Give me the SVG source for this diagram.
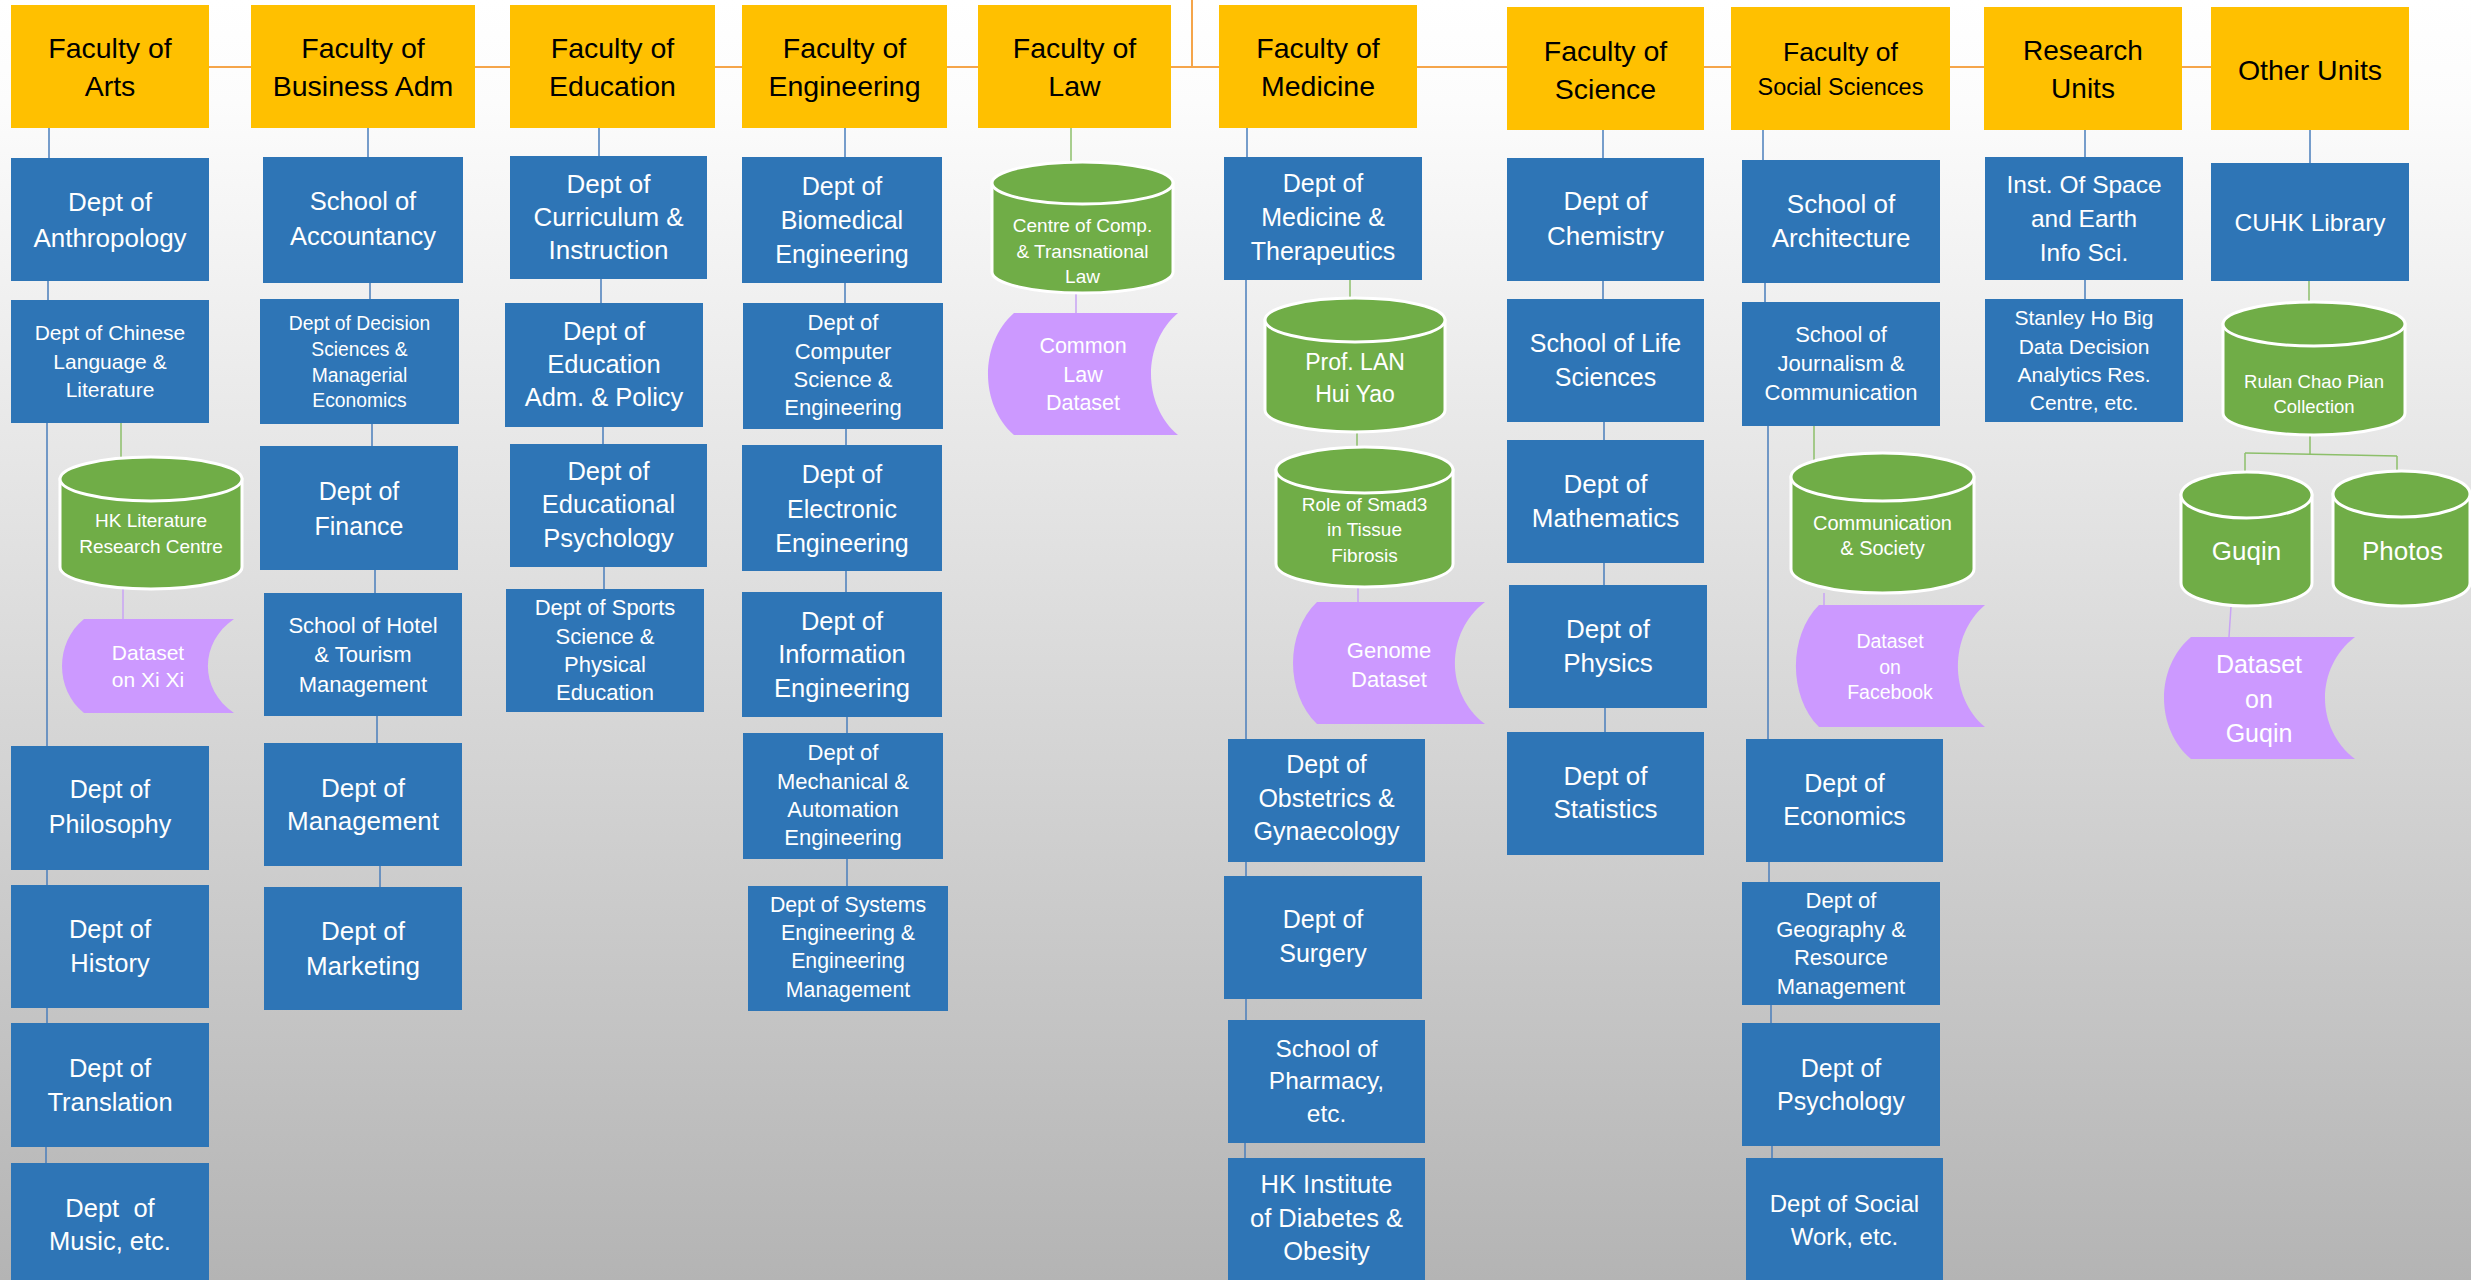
<svg xmlns="http://www.w3.org/2000/svg" width="2471" height="1280" viewBox="0 0 2471 1280">
<defs>
<linearGradient id="bg" x1="0" y1="0" x2="0" y2="1">
<stop offset="0" stop-color="#FFFFFF"/>
<stop offset="0.08" stop-color="#FCFCFC"/>
<stop offset="1" stop-color="#B4B4B4"/>
</linearGradient>
</defs>
<style>
.fac{fill:#FFC000}
.dept{fill:#2E75B6}
.cyl{fill:#70AD47;stroke:#FFFFFF;stroke-width:3}
.ds{fill:#CC99FF}
text{font-family:"Liberation Sans",Arial,sans-serif;text-anchor:middle}
.k{fill:#000000}
.w{fill:#FFFFFF}
.co{stroke:#F5A54A;stroke-width:2;fill:none}
.cb{stroke:#4A7EBB;stroke-width:1.5;fill:none}
.cg{stroke:#8CBF6A;stroke-width:1.5;fill:none}
.cp{stroke:#C9A3F5;stroke-width:1.5;fill:none}
</style>
<rect x="0" y="0" width="2471" height="1280" fill="url(#bg)"/>
<g id="connectors">
<line class="co" x1="209" y1="67" x2="2211" y2="67"/>
<line class="co" x1="1192" y1="0" x2="1192" y2="67"/>
<!-- Arts -->
<line class="cb" x1="49" y1="128" x2="49" y2="158"/>
<line class="cb" x1="48" y1="281" x2="48" y2="300"/>
<line class="cb" x1="47" y1="423" x2="47" y2="746"/>
<line class="cb" x1="47" y1="870" x2="47" y2="885"/>
<line class="cb" x1="47" y1="1008" x2="47" y2="1023"/>
<line class="cb" x1="46" y1="1147" x2="46" y2="1163"/>
<line class="cg" x1="121" y1="423" x2="121" y2="459"/>
<line class="cp" x1="123" y1="589" x2="123" y2="619"/>
<!-- Business -->
<line class="cb" x1="368" y1="128" x2="368" y2="157"/>
<line class="cb" x1="370" y1="283" x2="370" y2="299"/>
<line class="cb" x1="372" y1="424" x2="372" y2="446"/>
<line class="cb" x1="375" y1="570" x2="375" y2="593"/>
<line class="cb" x1="377" y1="716" x2="377" y2="743"/>
<line class="cb" x1="380" y1="866" x2="380" y2="887"/>
<!-- Education -->
<line class="cb" x1="599" y1="128" x2="599" y2="156"/>
<line class="cb" x1="601" y1="279" x2="601" y2="303"/>
<line class="cb" x1="603" y1="427" x2="603" y2="444"/>
<line class="cb" x1="604" y1="567" x2="604" y2="589"/>
<!-- Engineering -->
<line class="cb" x1="845" y1="128" x2="845" y2="157"/>
<line class="cb" x1="845" y1="283" x2="845" y2="303"/>
<line class="cb" x1="846" y1="429" x2="846" y2="445"/>
<line class="cb" x1="846" y1="571" x2="846" y2="592"/>
<line class="cb" x1="847" y1="717" x2="847" y2="733"/>
<line class="cb" x1="847" y1="859" x2="847" y2="886"/>
<!-- Law -->
<line class="cg" x1="1071" y1="128" x2="1071" y2="163"/>
<line class="cp" x1="1076" y1="293" x2="1076" y2="313"/>
<!-- Medicine -->
<line class="cb" x1="1247" y1="128" x2="1247" y2="157"/>
<line class="cb" x1="1246" y1="280" x2="1246" y2="739"/>
<line class="cg" x1="1350" y1="280" x2="1350" y2="299"/>
<line class="cg" x1="1357" y1="432" x2="1357" y2="448"/>
<line class="cp" x1="1358" y1="587" x2="1358" y2="602"/>
<line class="cb" x1="1246" y1="862" x2="1246" y2="876"/>
<line class="cb" x1="1246" y1="999" x2="1246" y2="1020"/>
<line class="cb" x1="1245" y1="1143" x2="1245" y2="1158"/>
<!-- Science -->
<line class="cb" x1="1603" y1="130" x2="1603" y2="158"/>
<line class="cb" x1="1603" y1="281" x2="1603" y2="299"/>
<line class="cb" x1="1604" y1="422" x2="1604" y2="440"/>
<line class="cb" x1="1604" y1="563" x2="1604" y2="585"/>
<line class="cb" x1="1605" y1="708" x2="1605" y2="732"/>
<!-- Social Sciences -->
<line class="cb" x1="1763" y1="130" x2="1763" y2="160"/>
<line class="cb" x1="1765" y1="283" x2="1765" y2="302"/>
<line class="cb" x1="1768" y1="426" x2="1768" y2="739"/>
<line class="cg" x1="1814" y1="426" x2="1814" y2="460"/>
<line class="cp" x1="1824" y1="593" x2="1824" y2="605"/>
<line class="cb" x1="1769" y1="862" x2="1769" y2="882"/>
<line class="cb" x1="1771" y1="1005" x2="1771" y2="1023"/>
<line class="cb" x1="1772" y1="1146" x2="1772" y2="1158"/>
<!-- Research -->
<line class="cb" x1="2085" y1="130" x2="2085" y2="157"/>
<line class="cb" x1="2085" y1="280" x2="2085" y2="299"/>
<!-- Other -->
<line class="cb" x1="2310" y1="130" x2="2310" y2="163"/>
<line class="cg" x1="2309" y1="281" x2="2309" y2="302"/>
<line class="cg" x1="2310" y1="435" x2="2310" y2="454"/>
<line class="cg" x1="2245" y1="453" x2="2397" y2="456"/>
<line class="cg" x1="2245" y1="453" x2="2245" y2="473"/>
<line class="cg" x1="2397" y1="456" x2="2397" y2="472"/>
<line class="cp" x1="2231" y1="606" x2="2229" y2="637"/>
</g>

<!-- Faculty row -->
<g id="fac-arts"><rect class="fac" x="11" y="5" width="198" height="123"/><text class="k" font-size="28.5"><tspan x="110" y="58">Faculty of</tspan><tspan x="110" y="96">Arts</tspan></text></g>
<g id="fac-business"><rect class="fac" x="251" y="5" width="224" height="123"/><text class="k" font-size="28.5"><tspan x="363" y="58">Faculty of</tspan><tspan x="363" y="96">Business Adm</tspan></text></g>
<g id="fac-education"><rect class="fac" x="510" y="5" width="205" height="123"/><text class="k" font-size="28.5"><tspan x="612.5" y="58">Faculty of</tspan><tspan x="612.5" y="96">Education</tspan></text></g>
<g id="fac-engineering"><rect class="fac" x="742" y="5" width="205" height="123"/><text class="k" font-size="28.5"><tspan x="844.5" y="58">Faculty of</tspan><tspan x="844.5" y="96">Engineering</tspan></text></g>
<g id="fac-law"><rect class="fac" x="978" y="5" width="193" height="123"/><text class="k" font-size="28.5"><tspan x="1074.5" y="58">Faculty of</tspan><tspan x="1074.5" y="96">Law</tspan></text></g>
<g id="fac-medicine"><rect class="fac" x="1219" y="5" width="198" height="123"/><text class="k" font-size="28.5"><tspan x="1318" y="58">Faculty of</tspan><tspan x="1318" y="96">Medicine</tspan></text></g>
<g id="fac-science"><rect class="fac" x="1507" y="7" width="197" height="123"/><text class="k" font-size="28.5"><tspan x="1605.5" y="61">Faculty of</tspan><tspan x="1605.5" y="99">Science</tspan></text></g>
<g id="fac-social"><rect class="fac" x="1731" y="7" width="219" height="123"/><text class="k"><tspan x="1840.5" y="61" font-size="26.5">Faculty of</tspan><tspan x="1840.5" y="95" font-size="23.5">Social Sciences</tspan></text></g>
<g id="fac-research"><rect class="fac" x="1984" y="7" width="198" height="123"/><text class="k" font-size="28"><tspan x="2083" y="60">Research</tspan><tspan x="2083" y="98">Units</tspan></text></g>
<g id="fac-other"><rect class="fac" x="2211" y="7" width="198" height="123"/><text class="k" font-size="28.5"><tspan x="2310" y="80">Other Units</tspan></text></g>

<!-- Arts column -->
<g id="arts-anthropology"><rect class="dept" x="11" y="158" width="198" height="123"/><text class="w" font-size="26"><tspan x="110" y="211">Dept of</tspan><tspan x="110" y="247">Anthropology</tspan></text></g>
<g id="arts-chinese"><rect class="dept" x="11" y="300" width="198" height="123"/><text class="w" font-size="21"><tspan x="110" y="340">Dept of Chinese</tspan><tspan x="110" y="368.5">Language &amp;</tspan><tspan x="110" y="397">Literature</tspan></text></g>
<g id="arts-hklit"><path class="cyl" d="M60,479 V567 A91,22 0 0 0 242,567 V479 Z"/><ellipse class="cyl" cx="151" cy="479" rx="91" ry="22"/><text class="w" font-size="19"><tspan x="151" y="527">HK Literature</tspan><tspan x="151" y="553">Research Centre</tspan></text></g>
<g id="arts-xixi"><path class="ds" d="M84,619 H234 C199.3,642.5 199.3,689.5 234,713 H84 C54.7,689.5 54.7,642.5 84,619 Z"/><text class="w" font-size="21"><tspan x="148" y="660">Dataset</tspan><tspan x="148" y="687">on Xi Xi</tspan></text></g>
<g id="arts-philosophy"><rect class="dept" x="11" y="746" width="198" height="124"/><text class="w" font-size="25"><tspan x="110" y="798">Dept of</tspan><tspan x="110" y="833">Philosophy</tspan></text></g>
<g id="arts-history"><rect class="dept" x="11" y="885" width="198" height="123"/><text class="w" font-size="25.5"><tspan x="110" y="938">Dept of</tspan><tspan x="110" y="972">History</tspan></text></g>
<g id="arts-translation"><rect class="dept" x="11" y="1023" width="198" height="124"/><text class="w" font-size="25.5"><tspan x="110" y="1077">Dept of</tspan><tspan x="110" y="1111">Translation</tspan></text></g>
<g id="arts-music"><rect class="dept" x="11" y="1163" width="198" height="123"/><text class="w" font-size="25.5" xml:space="preserve"><tspan x="110" y="1217">Dept  of</tspan><tspan x="110" y="1250">Music, etc.</tspan></text></g>

<!-- Business column -->
<g id="bus-accountancy"><rect class="dept" x="263" y="157" width="200" height="126"/><text class="w" font-size="25.5"><tspan x="363" y="210">School of</tspan><tspan x="363" y="245">Accountancy</tspan></text></g>
<g id="bus-decision"><rect class="dept" x="260" y="299" width="199" height="125"/><text class="w" font-size="19.3"><tspan x="359.5" y="330">Dept of Decision</tspan><tspan x="359.5" y="355.5">Sciences &amp;</tspan><tspan x="359.5" y="381.5">Managerial</tspan><tspan x="359.5" y="407">Economics</tspan></text></g>
<g id="bus-finance"><rect class="dept" x="260" y="446" width="198" height="124"/><text class="w" font-size="25"><tspan x="359" y="500">Dept of</tspan><tspan x="359" y="535">Finance</tspan></text></g>
<g id="bus-hotel"><rect class="dept" x="264" y="593" width="198" height="123"/><text class="w" font-size="22"><tspan x="363" y="633">School of Hotel</tspan><tspan x="363" y="662">&amp; Tourism</tspan><tspan x="363" y="692">Management</tspan></text></g>
<g id="bus-management"><rect class="dept" x="264" y="743" width="198" height="123"/><text class="w" font-size="26"><tspan x="363" y="797">Dept of</tspan><tspan x="363" y="830">Management</tspan></text></g>
<g id="bus-marketing"><rect class="dept" x="264" y="887" width="198" height="123"/><text class="w" font-size="26"><tspan x="363" y="940">Dept of</tspan><tspan x="363" y="975">Marketing</tspan></text></g>

<!-- Education column -->
<g id="edu-curriculum"><rect class="dept" x="510" y="156" width="197" height="123"/><text class="w" font-size="26"><tspan x="608.5" y="193">Dept of</tspan><tspan x="608.5" y="226">Curriculum &amp;</tspan><tspan x="608.5" y="259">Instruction</tspan></text></g>
<g id="edu-adm"><rect class="dept" x="505" y="303" width="198" height="124"/><text class="w" font-size="25.5"><tspan x="604" y="340">Dept of</tspan><tspan x="604" y="373">Education</tspan><tspan x="604" y="406">Adm. &amp; Policy</tspan></text></g>
<g id="edu-psych"><rect class="dept" x="510" y="444" width="197" height="123"/><text class="w" font-size="25.5"><tspan x="608.5" y="480">Dept of</tspan><tspan x="608.5" y="513">Educational</tspan><tspan x="608.5" y="547">Psychology</tspan></text></g>
<g id="edu-sports"><rect class="dept" x="506" y="589" width="198" height="123"/><text class="w" font-size="22"><tspan x="605" y="615">Dept of Sports</tspan><tspan x="605" y="643.5">Science &amp;</tspan><tspan x="605" y="672">Physical</tspan><tspan x="605" y="700">Education</tspan></text></g>

<!-- Engineering column -->
<g id="eng-biomed"><rect class="dept" x="742" y="157" width="200" height="126"/><text class="w" font-size="25"><tspan x="842" y="195">Dept of</tspan><tspan x="842" y="229">Biomedical</tspan><tspan x="842" y="263">Engineering</tspan></text></g>
<g id="eng-cse"><rect class="dept" x="743" y="303" width="200" height="126"/><text class="w" font-size="22"><tspan x="843" y="330">Dept of</tspan><tspan x="843" y="358.5">Computer</tspan><tspan x="843" y="387">Science &amp;</tspan><tspan x="843" y="415">Engineering</tspan></text></g>
<g id="eng-ee"><rect class="dept" x="742" y="445" width="200" height="126"/><text class="w" font-size="25"><tspan x="842" y="483">Dept of</tspan><tspan x="842" y="518">Electronic</tspan><tspan x="842" y="552">Engineering</tspan></text></g>
<g id="eng-ie"><rect class="dept" x="742" y="592" width="200" height="125"/><text class="w" font-size="25.5"><tspan x="842" y="630">Dept of</tspan><tspan x="842" y="663">Information</tspan><tspan x="842" y="697">Engineering</tspan></text></g>
<g id="eng-mae"><rect class="dept" x="743" y="733" width="200" height="126"/><text class="w" font-size="22"><tspan x="843" y="760">Dept of</tspan><tspan x="843" y="788.5">Mechanical &amp;</tspan><tspan x="843" y="817">Automation</tspan><tspan x="843" y="845">Engineering</tspan></text></g>
<g id="eng-seem"><rect class="dept" x="748" y="886" width="200" height="125"/><text class="w" font-size="21.3"><tspan x="848" y="912">Dept of Systems</tspan><tspan x="848" y="940">Engineering &amp;</tspan><tspan x="848" y="968">Engineering</tspan><tspan x="848" y="997">Management</tspan></text></g>

<!-- Law column -->
<g id="law-centre"><path class="cyl" d="M992,183 V272 A90.5,21 0 0 0 1173,272 V183 Z"/><ellipse class="cyl" cx="1082.5" cy="183" rx="90.5" ry="21"/><text class="w" font-size="19"><tspan x="1082.5" y="232">Centre of Comp.</tspan><tspan x="1082.5" y="258">&amp; Transnational</tspan><tspan x="1082.5" y="283">Law</tspan></text></g>
<g id="law-dataset"><path class="ds" d="M1014,313 H1178 C1142,343.5 1142,404.5 1178,435 H1014 C979.3,404.5 979.3,343.5 1014,313 Z"/><text class="w" font-size="21.5"><tspan x="1083" y="353">Common</tspan><tspan x="1083" y="382">Law</tspan><tspan x="1083" y="410">Dataset</tspan></text></g>

<!-- Medicine column -->
<g id="med-medther"><rect class="dept" x="1224" y="157" width="198" height="123"/><text class="w" font-size="25"><tspan x="1323" y="192">Dept of</tspan><tspan x="1323" y="226">Medicine &amp;</tspan><tspan x="1323" y="260">Therapeutics</tspan></text></g>
<g id="med-lan"><path class="cyl" d="M1265,320 V410 A90,22 0 0 0 1445,410 V320 Z"/><ellipse class="cyl" cx="1355" cy="320" rx="90" ry="22"/><text class="w" font-size="23"><tspan x="1355" y="370">Prof. LAN</tspan><tspan x="1355" y="402">Hui Yao</tspan></text></g>
<g id="med-smad3"><path class="cyl" d="M1276,470 V564 A88.5,23 0 0 0 1453,564 V470 Z"/><ellipse class="cyl" cx="1364.5" cy="470" rx="88.5" ry="23"/><text class="w" font-size="19"><tspan x="1364.5" y="511">Role of Smad3</tspan><tspan x="1364.5" y="536">in Tissue</tspan><tspan x="1364.5" y="562">Fibrosis</tspan></text></g>
<g id="med-genome"><path class="ds" d="M1317,602 H1485 C1445,632.5 1445,693.5 1485,724 H1317 C1285,693.5 1285,632.5 1317,602 Z"/><text class="w" font-size="22"><tspan x="1389" y="658">Genome</tspan><tspan x="1389" y="687">Dataset</tspan></text></g>
<g id="med-obs"><rect class="dept" x="1228" y="739" width="197" height="123"/><text class="w" font-size="25"><tspan x="1326.5" y="773">Dept of</tspan><tspan x="1326.5" y="807">Obstetrics &amp;</tspan><tspan x="1326.5" y="840">Gynaecology</tspan></text></g>
<g id="med-surgery"><rect class="dept" x="1224" y="876" width="198" height="123"/><text class="w" font-size="25"><tspan x="1323" y="928">Dept of</tspan><tspan x="1323" y="962">Surgery</tspan></text></g>
<g id="med-pharmacy"><rect class="dept" x="1228" y="1020" width="197" height="123"/><text class="w" font-size="24.5"><tspan x="1326.5" y="1057">School of</tspan><tspan x="1326.5" y="1089">Pharmacy,</tspan><tspan x="1326.5" y="1122">etc.</tspan></text></g>
<g id="med-diabetes"><rect class="dept" x="1228" y="1158" width="197" height="123"/><text class="w" font-size="25.5"><tspan x="1326.5" y="1193">HK Institute</tspan><tspan x="1326.5" y="1227">of Diabetes &amp;</tspan><tspan x="1326.5" y="1260">Obesity</tspan></text></g>

<!-- Science column -->
<g id="sci-chem"><rect class="dept" x="1507" y="158" width="197" height="123"/><text class="w" font-size="26"><tspan x="1605.5" y="210">Dept of</tspan><tspan x="1605.5" y="245">Chemistry</tspan></text></g>
<g id="sci-life"><rect class="dept" x="1507" y="299" width="197" height="123"/><text class="w" font-size="25"><tspan x="1605.5" y="352">School of Life</tspan><tspan x="1605.5" y="386">Sciences</tspan></text></g>
<g id="sci-math"><rect class="dept" x="1507" y="440" width="197" height="123"/><text class="w" font-size="26"><tspan x="1605.5" y="493">Dept of</tspan><tspan x="1605.5" y="527">Mathematics</tspan></text></g>
<g id="sci-phys"><rect class="dept" x="1509" y="585" width="198" height="123"/><text class="w" font-size="26"><tspan x="1608" y="638">Dept of</tspan><tspan x="1608" y="672">Physics</tspan></text></g>
<g id="sci-stat"><rect class="dept" x="1507" y="732" width="197" height="123"/><text class="w" font-size="26"><tspan x="1605.5" y="785">Dept of</tspan><tspan x="1605.5" y="818">Statistics</tspan></text></g>

<!-- Social Sciences column -->
<g id="soc-arch"><rect class="dept" x="1742" y="160" width="198" height="123"/><text class="w" font-size="26"><tspan x="1841" y="213">School of</tspan><tspan x="1841" y="247">Architecture</tspan></text></g>
<g id="soc-journalism"><rect class="dept" x="1742" y="302" width="198" height="124"/><text class="w" font-size="22"><tspan x="1841" y="342">School of</tspan><tspan x="1841" y="371">Journalism &amp;</tspan><tspan x="1841" y="400">Communication</tspan></text></g>
<g id="soc-commsoc"><path class="cyl" d="M1791,477 V569 A91.5,24 0 0 0 1974,569 V477 Z"/><ellipse class="cyl" cx="1882.5" cy="477" rx="91.5" ry="24"/><text class="w" font-size="20"><tspan x="1882.5" y="530">Communication</tspan><tspan x="1882.5" y="555">&amp; Society</tspan></text></g>
<g id="soc-facebook"><path class="ds" d="M1819,605 H1985 C1949,635.5 1949,696.5 1985,727 H1819 C1788.3,696.5 1788.3,635.5 1819,605 Z"/><text class="w" font-size="19.5"><tspan x="1890" y="648">Dataset</tspan><tspan x="1890" y="673.5">on</tspan><tspan x="1890" y="699">Facebook</tspan></text></g>
<g id="soc-econ"><rect class="dept" x="1746" y="739" width="197" height="123"/><text class="w" font-size="25"><tspan x="1844.5" y="792">Dept of</tspan><tspan x="1844.5" y="825">Economics</tspan></text></g>
<g id="soc-geog"><rect class="dept" x="1742" y="882" width="198" height="123"/><text class="w" font-size="22"><tspan x="1841" y="908">Dept of</tspan><tspan x="1841" y="937">Geography &amp;</tspan><tspan x="1841" y="965">Resource</tspan><tspan x="1841" y="994">Management</tspan></text></g>
<g id="soc-psych"><rect class="dept" x="1742" y="1023" width="198" height="123"/><text class="w" font-size="25"><tspan x="1841" y="1077">Dept of</tspan><tspan x="1841" y="1110">Psychology</tspan></text></g>
<g id="soc-socialwork"><rect class="dept" x="1746" y="1158" width="197" height="123"/><text class="w" font-size="24"><tspan x="1844.5" y="1212">Dept of Social</tspan><tspan x="1844.5" y="1245">Work, etc.</tspan></text></g>

<!-- Research column -->
<g id="res-space"><rect class="dept" x="1985" y="157" width="198" height="123"/><text class="w" font-size="24.5"><tspan x="2084" y="193">Inst. Of Space</tspan><tspan x="2084" y="227">and Earth</tspan><tspan x="2084" y="261">Info Sci.</tspan></text></g>
<g id="res-bigdata"><rect class="dept" x="1985" y="299" width="198" height="123"/><text class="w" font-size="21"><tspan x="2084" y="325">Stanley Ho Big</tspan><tspan x="2084" y="353.5">Data Decision</tspan><tspan x="2084" y="382">Analytics Res.</tspan><tspan x="2084" y="410">Centre, etc.</tspan></text></g>

<!-- Other Units column -->
<g id="oth-library"><rect class="dept" x="2211" y="163" width="198" height="118"/><text class="w" font-size="24.5"><tspan x="2310" y="231">CUHK Library</tspan></text></g>
<g id="oth-rulan"><path class="cyl" d="M2223,324 V413 A91,22 0 0 0 2405,413 V324 Z"/><ellipse class="cyl" cx="2314" cy="324" rx="91" ry="22"/><text class="w" font-size="18.5"><tspan x="2314" y="388">Rulan Chao Pian</tspan><tspan x="2314" y="413">Collection</tspan></text></g>
<g id="oth-guqin"><path class="cyl" d="M2181,495 V583 A65.5,23 0 0 0 2312,583 V495 Z"/><ellipse class="cyl" cx="2246.5" cy="495" rx="65.5" ry="23"/><text class="w" font-size="26"><tspan x="2246.5" y="560">Guqin</tspan></text></g>
<g id="oth-photos"><path class="cyl" d="M2333,494 V583 A68.5,23 0 0 0 2470,583 V494 Z"/><ellipse class="cyl" cx="2401.5" cy="494" rx="68.5" ry="23"/><text class="w" font-size="26"><tspan x="2402.5" y="560">Photos</tspan></text></g>
<g id="oth-guqin-dataset"><path class="ds" d="M2191,637 H2355 C2315,667.5 2315,728.5 2355,759 H2191 C2155,728.5 2155,667.5 2191,637 Z"/><text class="w" font-size="25"><tspan x="2259" y="673">Dataset</tspan><tspan x="2259" y="708">on</tspan><tspan x="2259" y="742">Guqin</tspan></text></g>
</svg>
